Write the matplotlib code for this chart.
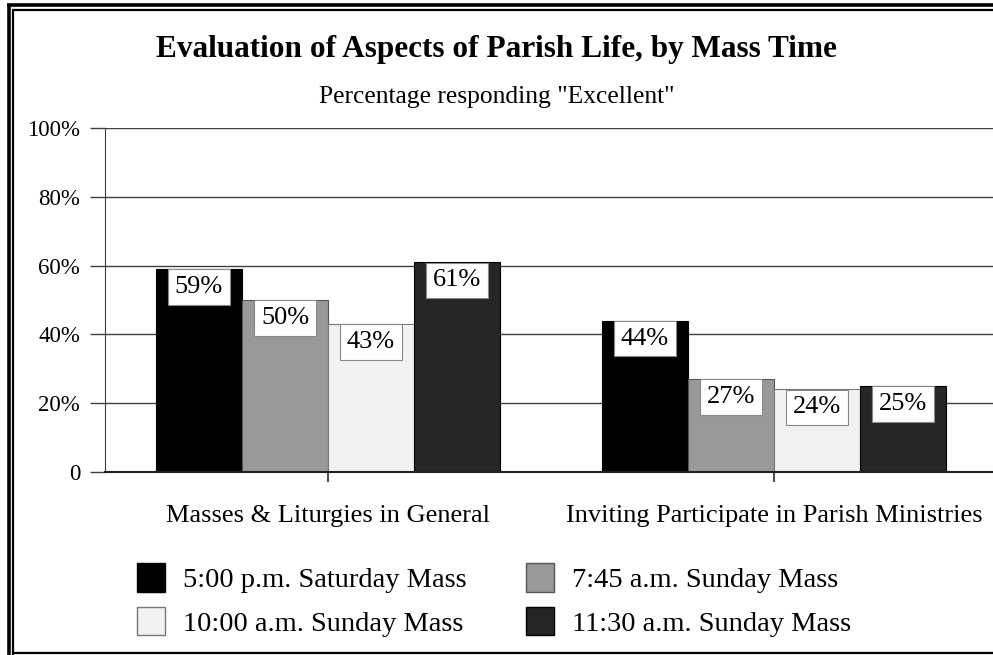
import numpy as np
import matplotlib.pyplot as plt
from matplotlib.patches import Patch
from matplotlib.lines import Line2D

plt.rcParams['font.family'] = ['Liberation Serif', 'DejaVu Serif']

categories = ['Masses & Liturgies in General', 'Inviting Participate in Parish Ministries']
series_names = ['5:00 p.m. Saturday Mass', '7:45 a.m. Sunday Mass',
                '10:00 a.m. Sunday Mass', '11:30 a.m. Sunday Mass']
sat_500 = [59, 44]
sun_745 = [50, 27]
sun_1000 = [43, 24]
sun_1130 = [61, 25]
series = [sat_500, sun_745, sun_1000, sun_1130]
colors = ['#000000', '#999999', '#f2f2f2', '#262626']
edges = ['#000000', '#555555', '#777777', '#000000']
yticks = [0, 20, 40, 60, 80, 100]
ytick_labels = ['0', '20%', '40%', '60%', '80%', '100%']

fig = plt.figure(figsize=(9.93, 6.55), dpi=100)
ax = fig.add_axes([105/993, 1-472/655, 892/993, 344/655])

x = np.arange(len(categories))
width = 0.193
for i, vals in enumerate(series):
    pos = x + (i - 1.5) * width
    ax.bar(pos, vals, width, color=colors[i], edgecolor=edges[i], linewidth=0.8,
           label=series_names[i], zorder=3)
    for p, v in zip(pos, vals):
        ax.annotate(str(v) + '%', (p, v), xytext=(0, -5), textcoords='offset points',
                    ha='center', va='top', fontsize=19, zorder=4,
                    bbox=dict(boxstyle='square,pad=0.25', facecolor='white',
                              edgecolor='#888888', linewidth=0.8))

ax.set_xlim(-0.5, 1.5)
ax.set_ylim(0, 100)
ax.set_yticks(yticks)
ax.set_yticklabels(ytick_labels, fontsize=16.5)
ax.set_xticks(x)
ax.set_xticklabels(categories, fontsize=19)
ax.tick_params(axis='y', length=11, width=1, color='#404040', pad=7)
ax.tick_params(axis='x', length=7, width=1.5, color='#505050', pad=17)
ax.yaxis.grid(True, color='#404040', linewidth=1, zorder=0)
for s in ['top', 'right']:
    ax.spines[s].set_visible(False)
ax.spines['left'].set_color('#404040')
ax.spines['bottom'].set_color('#202020')
ax.spines['bottom'].set_linewidth(1.5)
ax.spines['bottom'].set_zorder(5)

fig.text(0.5, 1-50/655, 'Evaluation of Aspects of Parish Life, by Mass Time',
         ha='center', va='center', fontsize=22.5, fontweight='bold')
fig.text(0.5, 1-97/655, 'Percentage responding "Excellent"',
         ha='center', va='center', fontsize=18.4)

handles = [Patch(facecolor=colors[i], edgecolor=edges[i], label=series_names[i]) for i in range(4)]
order = [0, 2, 1, 3]
fig.legend([handles[i] for i in order], [series_names[i] for i in order],
           ncol=2, loc='center left', bbox_to_anchor=(137/993, 1-600/655),
           frameon=False, fontsize=20.5, handlelength=1.0, handleheight=1.15,
           handletextpad=0.6, columnspacing=2.1, labelspacing=0.48,
           borderpad=0, borderaxespad=0)

# double frame on left and top, single line at bottom
fig.add_artist(Line2D([8.5/993, 8.5/993], [0, 1-4.5/655], transform=fig.transFigure,
                      color='black', linewidth=2.6, solid_capstyle='butt'))
fig.add_artist(Line2D([7/993, 1], [1-4.5/655, 1-4.5/655], transform=fig.transFigure,
                      color='black', linewidth=2.6, solid_capstyle='butt'))
fig.add_artist(Line2D([13/993, 13/993], [0, 1-10/655], transform=fig.transFigure,
                      color='black', linewidth=1.6, solid_capstyle='butt'))
fig.add_artist(Line2D([12/993, 1], [1-10/655, 1-10/655], transform=fig.transFigure,
                      color='black', linewidth=1.6, solid_capstyle='butt'))
fig.add_artist(Line2D([12/993, 1], [1-653/655, 1-653/655], transform=fig.transFigure,
                      color='black', linewidth=1.6, solid_capstyle='butt'))

fig.savefig('out.png', dpi=100)
